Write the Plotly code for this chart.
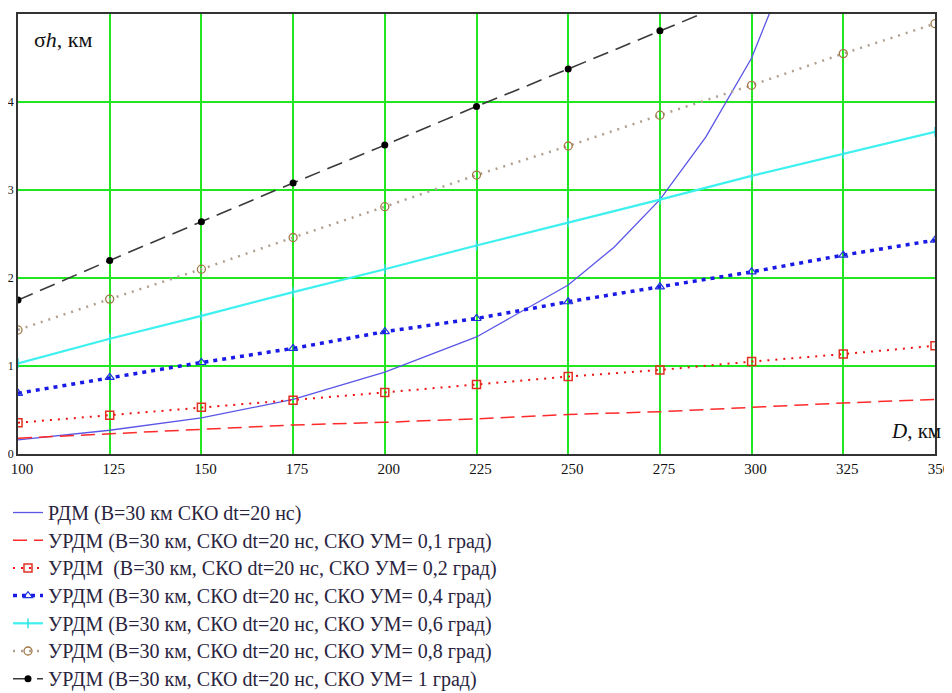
import plotly.graph_objects as go

# ---- data ----
D = [100, 125, 150, 175, 200, 225, 250, 275, 300, 325, 350]
D_rdm = [100, 125, 150, 175, 200, 225, 250, 262.5, 275, 287.5, 300, 312.5]
rdm = [0.16, 0.27, 0.41, 0.62, 0.93, 1.33, 1.92, 2.35, 2.89, 3.6, 4.5, 5.8]
urdm_01 = [0.18, 0.23, 0.28, 0.33, 0.36, 0.40, 0.45, 0.48, 0.53, 0.58, 0.62]
urdm_02 = [0.355, 0.44, 0.53, 0.61, 0.70, 0.79, 0.88, 0.955, 1.05, 1.135, 1.23]
urdm_04 = [0.69, 0.87, 1.04, 1.20, 1.39, 1.54, 1.73, 1.90, 2.07, 2.26, 2.43]
urdm_06 = [1.03, 1.31, 1.57, 1.84, 2.10, 2.37, 2.63, 2.89, 3.16, 3.41, 3.66]
urdm_08 = [1.41, 1.76, 2.10, 2.46, 2.81, 3.17, 3.50, 3.85, 4.19, 4.55, 4.89]
urdm_10 = [1.75, 2.20, 2.64, 3.08, 3.51, 3.95, 4.375, 4.81, 5.24, 5.67, 6.10]

x_ticks = [100, 125, 150, 175, 200, 225, 250, 275, 300, 325, 350]
y_ticks = [0, 1, 2, 3, 4]

names = [
    "РДМ (B=30 км СКО dt=20 нс)",
    "УРДМ (B=30 км, СКО dt=20 нс, СКО УМ= 0,1 град)",
    "УРДМ  (B=30 км, СКО dt=20 нс, СКО УМ= 0,2 град)",
    "УРДМ (B=30 км, СКО dt=20 нс, СКО УМ= 0,4 град)",
    "УРДМ (B=30 км, СКО dt=20 нс, СКО УМ= 0,6 град)",
    "УРДМ (B=30 км, СКО dt=20 нс, СКО УМ= 0,8 град)",
    "УРДМ (B=30 км, СКО dt=20 нс, СКО УМ= 1 град)",
]

SERIF = "Liberation Serif, DejaVu Serif, serif"


def lg(t):
    return '<span style="font-size:20px">' + t + '</span>'


fig = go.Figure()

fig.add_trace(go.Scatter(x=D_rdm, y=rdm, mode="lines", name=lg(names[0]),
                         line=dict(color="#5a55e6", width=1.3)))
fig.add_trace(go.Scatter(x=D, y=urdm_01, mode="lines", name=lg(names[1]),
                         line=dict(color="#ff2a2a", width=1.5, dash="14px,7px")))
fig.add_trace(go.Scatter(x=D, y=urdm_02, mode="lines+markers", name=lg(names[2]),
                         line=dict(color="#ee1111", width=2, dash="2px,6px"),
                         marker=dict(symbol="square-open", size=8, color="#e03020",
                                     line=dict(width=1.5))))
fig.add_trace(go.Scatter(x=D, y=urdm_04, mode="lines+markers", name=lg(names[3]),
                         line=dict(color="#1a1ae6", width=3.5, dash="4px,5px"),
                         marker=dict(symbol="triangle-up-open", size=8, color="#2030e0",
                                     line=dict(width=1.2))))
fig.add_trace(go.Scatter(x=D, y=urdm_06, mode="lines+markers", name=lg(names[4]),
                         line=dict(color="#3ff0f0", width=2.2),
                         marker=dict(symbol="line-ns-open", size=7, color="#30e0e0",
                                     line=dict(width=1.5, color="#30e0e0"))))
fig.add_trace(go.Scatter(x=D, y=urdm_08, mode="lines+markers", name=lg(names[5]),
                         line=dict(color="#b0a090", width=2.5, dash="2px,6px"),
                         marker=dict(symbol="circle-open", size=8, color="#a07848",
                                     line=dict(width=1.3))))
fig.add_trace(go.Scatter(x=D, y=urdm_10, mode="lines+markers", name=lg(names[6]),
                         line=dict(color="#3a3a3a", width=1.6, dash="16px,8px"),
                         marker=dict(symbol="circle", size=7, color="#000000")))

fig.update_xaxes(range=[100, 350], tickvals=x_ticks, ticktext=[str(v) for v in x_ticks],
                 showgrid=True, gridcolor="#22e622", gridwidth=1.5,
                 showline=True, mirror=True, linecolor="#333333", linewidth=1.5,
                 zeroline=False, ticks="", ticklabeloverflow="allow", ticklabelshift=4,
                 tickfont=dict(family=SERIF, size=15, color="#111"))
fig.update_yaxes(range=[0, 5], tickvals=y_ticks, ticktext=[str(v) for v in y_ticks],
                 showgrid=True, gridcolor="#22e622", gridwidth=1.5,
                 showline=True, mirror=True, linecolor="#333333", linewidth=1.5,
                 zeroline=False, ticks="", ticklabeloverflow="allow",
                 tickfont=dict(family=SERIF, size=12, color="#111"))

fig.add_annotation(xref="paper", yref="paper", x=0.015, y=0.975, xanchor="left", yanchor="top",
                   text="σ<i>h</i>, км", showarrow=False,
                   font=dict(family=SERIF, size=22, color="#111"))
fig.add_annotation(xref="paper", yref="paper", x=1.009, y=0.02, xanchor="right", yanchor="bottom",
                   text="<i>D</i>, км", showarrow=False,
                   font=dict(family=SERIF, size=21, color="#111"))

fig.update_layout(
    width=944, height=685,
    margin=dict(l=10, r=17, t=6, b=239, autoexpand=False),
    paper_bgcolor="white", plot_bgcolor="white",
    showlegend=True,
    legend=dict(xref="container", yref="container", x=0.0, y=0.291,
                xanchor="left", yanchor="top", orientation="v",
                font=dict(family=SERIF, size=19, color="#2a2440"),
                tracegroupgap=0, itemwidth=30, bgcolor="rgba(0,0,0,0)"),
)

fig.write_html("out.html")
